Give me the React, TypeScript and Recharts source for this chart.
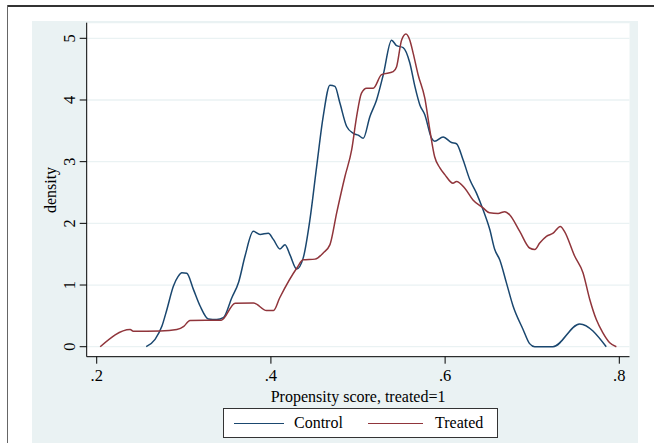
import React from 'react';
import { LineChart, Line, XAxis, YAxis, CartesianGrid, Legend } from 'recharts';

// ---- data ----
const xTicks = [0.2, 0.4, 0.6, 0.8];
const xTickLabels = ['.2', '.4', '.6', '.8'];
const yTicks = [0, 1, 2, 3, 4, 5];

const controlX = [
  0.2568, 0.267, 0.2748, 0.2805, 0.288, 0.2935, 0.2977, 0.3034, 0.311, 0.3187, 0.3282,
  0.3378, 0.3454, 0.355, 0.363, 0.3703, 0.3798, 0.3875, 0.397, 0.4028, 0.4104,
  0.4162, 0.4219, 0.4296, 0.4371, 0.4448, 0.4525, 0.46, 0.4678, 0.4735, 0.4792,
  0.487, 0.4945, 0.5002, 0.506, 0.5136, 0.5213, 0.529, 0.5385, 0.5443, 0.5518,
  0.5595, 0.5653, 0.571, 0.5767, 0.5844, 0.588, 0.5977, 0.6073, 0.613, 0.6206,
  0.6283, 0.636, 0.6436, 0.6513, 0.657, 0.6627, 0.6704, 0.678, 0.6895, 0.697,
  0.7029, 0.7238, 0.7545, 0.785,
];
const controlY = [
  0, 0.12, 0.33, 0.6, 0.98, 1.14, 1.2, 1.19, 0.93, 0.66, 0.45,
  0.44, 0.47, 0.79, 1.05, 1.47, 1.87, 1.82, 1.84, 1.74, 1.585,
  1.655, 1.49, 1.26, 1.44, 2.06, 2.92, 3.73, 4.24, 4.22, 3.95,
  3.57, 3.46, 3.43, 3.38, 3.73, 4.0, 4.41, 4.97, 4.88, 4.85,
  4.6, 4.22, 3.92, 3.76, 3.38, 3.33, 3.4, 3.31, 3.29, 3.03,
  2.71, 2.49, 2.22, 1.9, 1.575, 1.41, 1.035, 0.66, 0.28, 0.05,
  0, 0, 0.37, 0,
];

const treatedX = [
  0.204, 0.2384, 0.242, 0.273, 0.292, 0.3, 0.307, 0.343, 0.359, 0.38,
  0.395, 0.403, 0.41, 0.43, 0.437, 0.4506, 0.46, 0.4678, 0.4755, 0.485,
  0.4927, 0.4984, 0.504, 0.5099, 0.5175, 0.527, 0.5404, 0.5443, 0.55, 0.555,
  0.5595, 0.5633, 0.569, 0.5767, 0.5824, 0.588, 0.594, 0.5997, 0.609, 0.613,
  0.6226, 0.632, 0.6436, 0.651, 0.6608, 0.6685, 0.674, 0.6857, 0.697, 0.703,
  0.7086, 0.7163, 0.724, 0.7323, 0.737, 0.7487, 0.7583, 0.766, 0.7736, 0.781,
  0.789, 0.7966,
];
const treatedY = [
  0, 0.28, 0.25, 0.255, 0.28, 0.33, 0.425, 0.43, 0.706, 0.71,
  0.587, 0.587, 0.79, 1.28, 1.41, 1.42, 1.52, 1.655, 2.17, 2.76,
  3.19, 3.73, 4.11, 4.19, 4.19, 4.41, 4.46, 4.54, 4.97, 5.07,
  4.97, 4.76, 4.41, 4.03, 3.52, 3.08, 2.9, 2.79, 2.65, 2.68,
  2.57, 2.38, 2.25, 2.17, 2.16, 2.19, 2.14, 1.87, 1.6, 1.575,
  1.68, 1.79, 1.84, 1.95, 1.87, 1.47, 1.2, 0.77, 0.44, 0.23,
  0.065, 0,
];

const controlData = controlX.map((x, i) => ({ x, y: controlY[i] }));
const treatedData = treatedX.map((x, i) => ({ x, y: treatedY[i] }));

const FONT = '"Liberation Serif", "Times New Roman", serif';
const FS = 16;
const NAVY = '#1A476F';
const MAROON = '#90353B';
const BG = '#EAF2F3';

const YTick = (props: any) => {
  const { x, y, payload } = props;
  return (
    <text
      x={x}
      y={y}
      dy="0.35em"
      textAnchor="middle"
      fontSize={FS + 0.5}
      fontFamily={FONT}
      fill="#000"
      transform={`rotate(-90 ${x} ${y})`}
    >
      {payload.value}
    </text>
  );
};

const LegendBox = () => (
  <div
    style={{
      position: 'relative',
      boxSizing: 'border-box',
      width: 275,
      height: 30,
      border: '1px solid #333',
      background: '#fff',
      fontFamily: FONT,
      fontSize: FS,
      color: '#000',
    }}
  >
    <div style={{ position: 'absolute', left: 10, top: 14, width: 50, height: 1.5, background: NAVY }} />
    <div style={{ position: 'absolute', left: 70, top: 5, lineHeight: '18px' }}>Control</div>
    <div style={{ position: 'absolute', left: 144, top: 14, width: 55, height: 1.5, background: MAROON }} />
    <div style={{ position: 'absolute', left: 211, top: 5, lineHeight: '18px' }}>Treated</div>
  </div>
);

export default function App() {
  return (
    <div
      style={{
        position: 'absolute',
        left: 0,
        top: 0,
        width: 654,
        height: 443,
        background: '#fff',
        overflow: 'hidden',
        fontFamily: FONT,
      }}
    >
      <div style={{ position: 'absolute', left: 6.5, top: 5.3, width: 648, height: 1.6, background: '#333' }} />
      <div style={{ position: 'absolute', left: 6.5, top: 5.3, width: 1.5, height: 440, background: '#666' }} />
      <div style={{ position: 'absolute', left: 32, top: 21, width: 606, height: 422, background: BG }} />
      <div
        style={{
          position: 'absolute',
          left: 50.7,
          top: 190,
          transform: 'translate(-50%, -50%) rotate(-90deg)',
          fontSize: FS,
          color: '#000',
          whiteSpace: 'nowrap',
        }}
      >
        density
      </div>
      <div style={{ position: 'absolute', left: 0, top: 0 }}>
        <LineChart
          width={654}
          height={443}
          margin={{ top: 22.7, right: 24.5, left: 26.7, bottom: 41.3 }}
        >
          <CartesianGrid vertical={false} stroke={BG} strokeWidth={1.3} fill="#fff" fillOpacity={1} />
          <XAxis
            type="number"
            dataKey="x"
            domain={[0.1885, 0.8117]}
            allowDataOverflow
            ticks={xTicks}
            tickFormatter={(v: number) => xTickLabels[xTicks.indexOf(v)] ?? String(v)}
            height={45}
            tickSize={7}
            tickMargin={5.5}
            stroke="#000"
            tick={{ fill: '#000', fontSize: FS + 0.5, fontFamily: FONT }}
            label={{
              value: 'Propensity score, treated=1',
              position: 'insideBottom',
              offset: 0,
              fill: '#000',
              fontSize: FS,
              fontFamily: FONT,
            }}
          />
          <YAxis
            type="number"
            domain={[-0.162, 5.253]}
            allowDataOverflow
            ticks={yTicks}
            width={60}
            tickSize={7}
            tickMargin={10.4}
            stroke="#000"
            tick={<YTick />}
          />
          <Legend
            verticalAlign="middle"
            layout="horizontal"
            content={() => <LegendBox />}
            wrapperStyle={{ left: 223, top: 407.5, width: 275, height: 30 }}
          />
          <Line
            data={controlData}
            dataKey="y"
            name="Control"
            type="monotone"
            stroke={NAVY}
            strokeWidth={1.5}
            dot={false}
            isAnimationActive={false}
          />
          <Line
            data={treatedData}
            dataKey="y"
            name="Treated"
            type="monotone"
            stroke={MAROON}
            strokeWidth={1.5}
            dot={false}
            isAnimationActive={false}
          />
        </LineChart>
      </div>
    </div>
  );
}
